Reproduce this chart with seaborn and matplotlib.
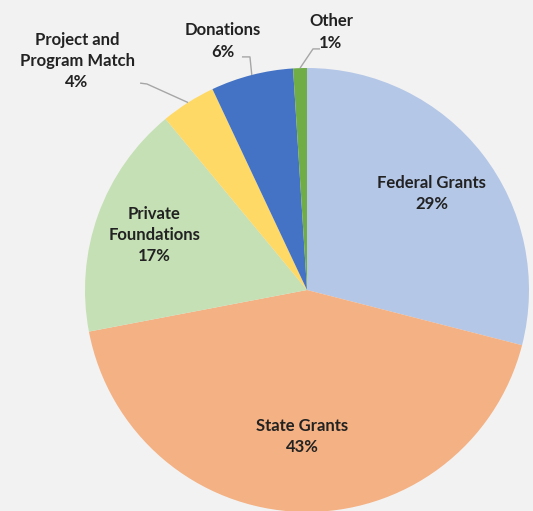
import numpy as np
import matplotlib.pyplot as plt
import seaborn as sns

# funding sources, clockwise from 12 o'clock
categories = ["Federal Grants", "State Grants", "Private Foundations",
              "Project and Program Match", "Donations", "Other"]
shares = [29, 43, 17, 4, 6, 1]
label_text = ["Federal Grants\n29%", "State Grants\n43%", "Private\nFoundations\n17%",
              "Project and\nProgram Match\n4%", "Donations\n6%", "Other\n1%"]
colors = ["#B4C7E7", "#F4B183", "#C5E0B4", "#FFD966", "#4472C4", "#70AD47"]

sns.set_theme(style="white")
plt.rcParams['font.family'] = ['Lato', 'DejaVu Sans']

bg = "#F2F2F2"
fig = plt.figure(figsize=(5.33, 5.11), dpi=100, facecolor=bg)
ax = fig.add_axes([0, 0, 1, 1])
ax.set_facecolor(bg)

wedges, _ = ax.pie(shares, colors=colors, startangle=90, counterclock=False,
                   radius=1.0, wedgeprops=dict(linewidth=0))

# pixel mapping: centre (307, 290), radius 222 px
cx, cy, r = 307, 290, 222
ax.set_xlim(-cx / r, (533 - cx) / r)
ax.set_ylim(-(511 - cy) / r, cy / r)
ax.set_aspect('equal')
ax.axis('off')

txt_kw = dict(ha='center', va='center', fontsize=12, fontweight='bold',
              color='#222222', linespacing=1.4)

# inside labels: distance from centre along wedge middle
inside_dist = {0: 0.71, 1: 0.66, 2: 0.73}
# outside labels: text centre and leader elbow (data units)
outside = {
    3: ((-1.036, 1.032), [(-0.752, 0.932), (-0.721, 0.928)]),
    4: ((-0.378, 1.122), [(-0.293, 1.050), (-0.257, 1.050)]),
    5: ((0.108, 1.162), [(0.059, 1.086), (0.027, 1.086)]),
}

for i, w in enumerate(wedges):
    mid = np.deg2rad((w.theta1 + w.theta2) / 2)
    if i in inside_dist:
        d = inside_dist[i]
        ax.text(d * np.cos(mid), d * np.sin(mid), label_text[i], **txt_kw)
    else:
        (tx, ty), elbow = outside[i]
        ax.text(tx, ty, label_text[i], **txt_kw)
        xs = [p[0] for p in elbow] + [np.cos(mid)]
        ys = [p[1] for p in elbow] + [np.sin(mid)]
        ax.plot(xs, ys, color='#A6A6A6', lw=1.0, solid_capstyle='butt')

plt.savefig("out.png", dpi=100, facecolor=bg)
